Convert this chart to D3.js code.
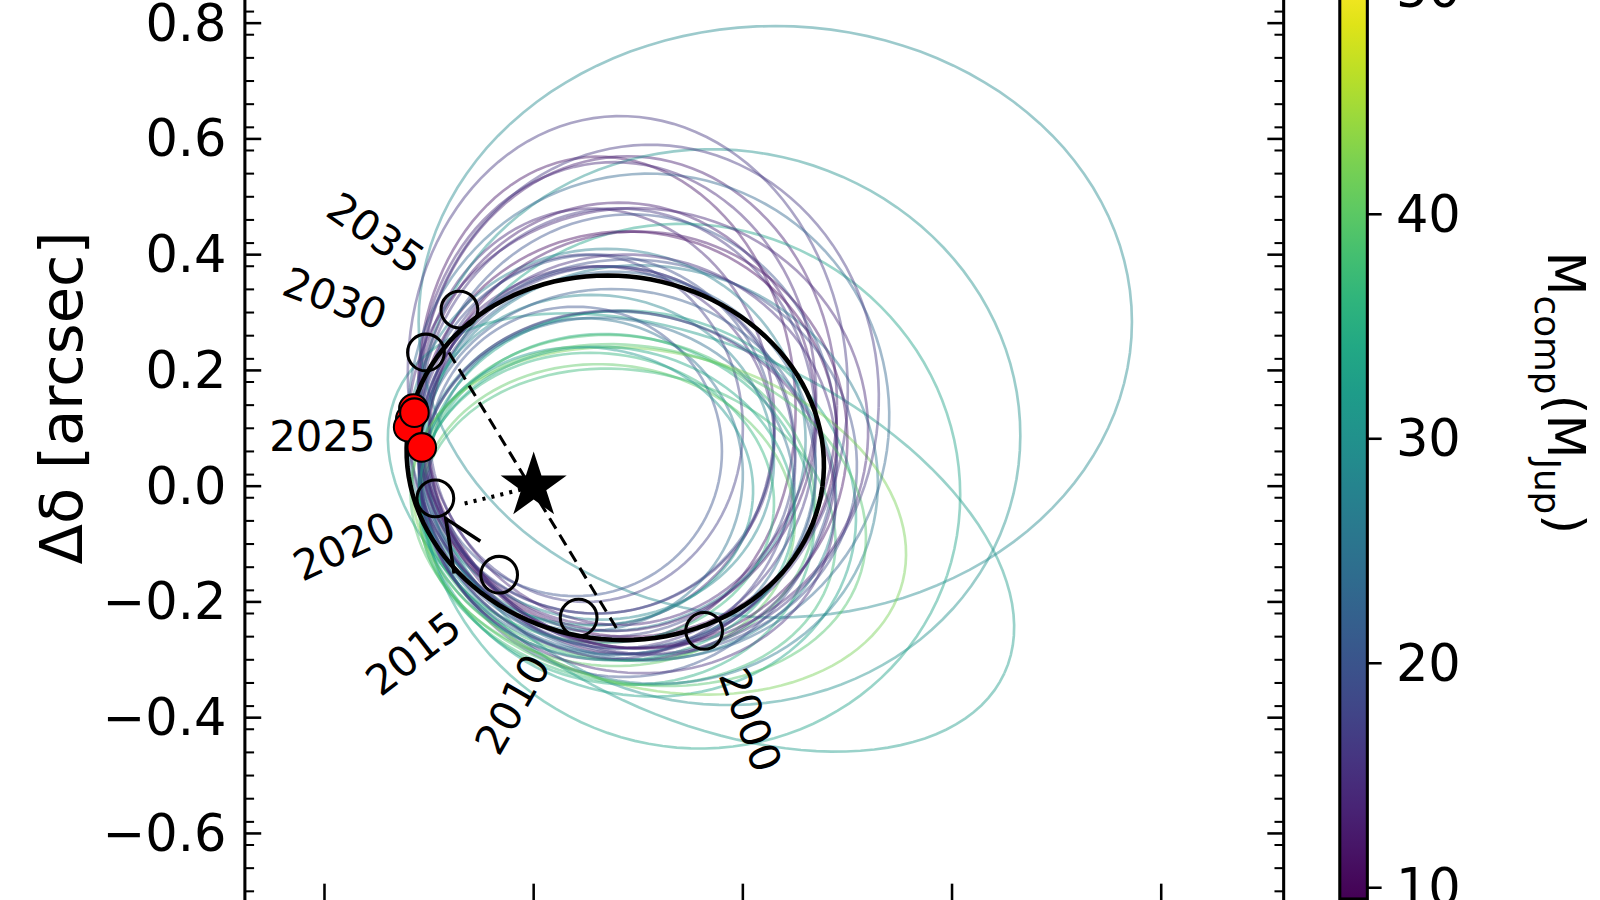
<!DOCTYPE html><html><head><meta charset="utf-8">
<script src="https://cdn.jsdelivr.net/npm/d3@7"></script>
<style>body{margin:0;background:#fff}svg{display:block;font-family:"DejaVu Sans",sans-serif}</style></head><body>
<svg id="c" width="1600" height="900"></svg>
<script>
// orbit ellipses: [cx, cy, rx, ry, rotationDeg, massMjup] (arcsec)
const orbits=[
[0.06,0.08,0.17,0.30,0,15],[0.07,0.06,0.18,0.32,-5,18],[0.08,0.04,0.19,0.33,-10,22],
[0.06,0.12,0.17,0.36,5,14],[0.08,0.10,0.19,0.38,0,16],[0.05,0.02,0.15,0.27,-5,25],
[0.09,0.00,0.20,0.30,-10,28],[0.08,-0.04,0.19,0.30,-15,35],[0.10,-0.03,0.21,0.33,-15,33],
[0.09,0.07,0.20,0.40,-5,20],[0.07,0.15,0.18,0.42,5,12],[0.09,0.14,0.20,0.43,0,13],
[0.06,0.05,0.17,0.28,-8,28],[0.08,-0.02,0.19,0.28,-8,38],[0.07,-0.05,0.18,0.26,-6,40],
[0.09,-0.07,0.20,0.27,-10,37],[0.11,0.02,0.22,0.36,-12,26],[0.16,-0.08,0.32,0.32,-25,32],
[0.231,0.284,0.341,0.511,0,29],[0.178,0.102,0.288,0.479,-10,30],[0.15,0.0,0.26,0.45,-25,33],
[0.04,0.06,0.14,0.25,0,20],[0.05,0.10,0.15,0.30,0,17],[0.09,0.09,0.20,0.35,-5,11],
[0.07,0.00,0.18,0.29,-10,24],[0.10,0.05,0.21,0.34,-12,19],[0.06,-0.02,0.17,0.25,-5,36],
[0.08,0.03,0.19,0.31,-8,21],[0.12,-0.06,0.24,0.29,-14,42],[0.09,0.18,0.21,0.46,5,16],
[0.11,0.12,0.23,0.42,-5,23],[0.07,0.08,0.19,0.33,-3,27],[0.05,0.00,0.16,0.24,-5,31],
[0.09,-0.01,0.20,0.31,-14,15],[0.10,0.10,0.22,0.38,-8,14],[0.08,0.12,0.19,0.37,-3,13],
[0.07,0.04,0.18,0.34,-6,17],[0.10,0.08,0.20,0.36,-10,12],[0.06,0.09,0.17,0.31,2,19],
[0.09,0.05,0.20,0.35,-8,15],[0.08,0.16,0.19,0.40,3,14],[0.07,-0.03,0.18,0.27,-8,34],
[0.10,-0.05,0.22,0.29,-12,39],[0.11,0.15,0.22,0.44,-2,16]];
const bestOrbit=[0.078,0.049,0.2,0.314,-8];
const epochs=[[0.163,-0.250],[0.043,-0.227],[-0.033,-0.153],[-0.094,-0.021],[-0.103,0.231],[-0.071,0.305]];
const observed=[[-0.115,0.134],[-0.118,0.116],[-0.12,0.102],[-0.107,0.067],[-0.114,0.127]];
const yearLabels=[["2000",0.207,-0.404,70],["2010",-0.02,-0.377,-60],["2015",-0.115,-0.289,-38],
["2020",-0.181,-0.104,-25],["2025",-0.202,0.085,0],["2030",-0.19,0.324,20],["2035",-0.151,0.437,35]];
const dashedLine=[[-0.081,0.231],[0.08,-0.248]];
const dottedLine=[[-0.066,-0.03],[-0.008,-0.004]];
const arrow=[[-0.076,-0.151],[-0.084,-0.056],[-0.051,-0.095]];
const yTicks=[-0.6,-0.4,-0.2,0.0,0.2,0.4,0.6,0.8];
const xTicks=[-0.2,0,0.2,0.4,0.6];
const cbTicks=[10,20,30,40,50];

const svg=d3.select("#c");
const root=svg.append("g").attr("transform","scale(1.0204)");
const x=d3.scaleLinear().domain([-0.2,0.6]).range([318,1138]);
const y=d3.scaleLinear().domain([-0.715,0.84]).range([882,0]);
const col=d3.scaleSequential(d3.interpolateViridis).domain([9.5,50.5]);
const line=d3.line().x(d=>x(d[0])).y(d=>y(d[1]));
function ell(o){const [cx,cy,rx,ry,r]=o;const a=r*Math.PI/180;
 return d3.range(0,361,3).map(t=>{const u=rx*Math.cos(t*Math.PI/180),v=ry*Math.sin(t*Math.PI/180);
 return [cx+u*Math.cos(a)-v*Math.sin(a)*0.55,cy+u*Math.sin(a)*1.8+v*Math.cos(a)];});}
const g=root.append("g");
g.selectAll("path.o").data(orbits).join("path").attr("d",d=>line(ell(d))).attr("fill","none")
 .attr("stroke",d=>col(d[5])).attr("stroke-width",2.6).attr("opacity",0.45);
g.append("path").attr("d",line(ell(bestOrbit))).attr("fill","none").attr("stroke","#000").attr("stroke-width",4.5);
g.append("path").attr("d",line(dashedLine)).attr("stroke","#000").attr("stroke-width",3).attr("stroke-dasharray","12,7");
g.append("path").attr("d",line(dottedLine)).attr("stroke","#000").attr("stroke-width",4).attr("stroke-dasharray","3,6");
g.append("path").attr("d",line(arrow)).attr("fill","none").attr("stroke","#000").attr("stroke-width",3.5);
g.selectAll("circle.e").data(epochs).join("circle").attr("cx",d=>x(d[0])).attr("cy",d=>y(d[1])).attr("r",18)
 .attr("fill","none").attr("stroke","#000").attr("stroke-width",3);
g.selectAll("circle.r").data(observed).join("circle").attr("cx",d=>x(d[0])).attr("cy",d=>y(d[1])).attr("r",14)
 .attr("fill","#f00").attr("stroke","#000").attr("stroke-width",2);
g.append("path").attr("d",d3.symbol(d3.symbolStar,1300)()).attr("transform",`translate(${x(0)},${y(0)})`).attr("fill","#000");
g.selectAll("text.yr").data(yearLabels).join("text").attr("transform",d=>`translate(${x(d[1])},${y(d[2])}) rotate(${d[3]})`)
 .attr("text-anchor","middle").attr("dominant-baseline","central").attr("font-size",41).text(d=>d[0]);
const L=240,R=1258,B=882;
root.append("path").attr("d",`M${L},0V${B}M${R},0V${B}`).attr("stroke","#000").attr("stroke-width",3);
const minorY=d3.range(-0.7,0.84,0.04).map(v=>+v.toFixed(2));
root.selectAll("line.my").data(minorY).join("line").attr("x1",L).attr("x2",L+9).attr("y1",d=>y(d)).attr("y2",d=>y(d)).attr("stroke","#000").attr("stroke-width",2);
root.selectAll("line.my2").data(minorY).join("line").attr("x1",R).attr("x2",R-9).attr("y1",d=>y(d)).attr("y2",d=>y(d)).attr("stroke","#000").attr("stroke-width",2);
root.selectAll("line.My").data(yTicks).join("line").attr("x1",L).attr("x2",L+16).attr("y1",d=>y(d)).attr("y2",d=>y(d)).attr("stroke","#000").attr("stroke-width",2.5);
root.selectAll("line.My2").data(yTicks).join("line").attr("x1",R).attr("x2",R-16).attr("y1",d=>y(d)).attr("y2",d=>y(d)).attr("stroke","#000").attr("stroke-width",2.5);
root.selectAll("line.Mx").data(xTicks).join("line").attr("x1",d=>x(d)).attr("x2",d=>x(d)).attr("y1",B).attr("y2",B-16).attr("stroke","#000").attr("stroke-width",2.5);
root.selectAll("text.yt").data(yTicks).join("text").attr("x",222).attr("y",d=>y(d)).attr("text-anchor","end")
 .attr("dominant-baseline","central").attr("font-size",50).text(d=>d3.format(".1f")(d).replace("-","\u2212"));
root.append("text").attr("transform","translate(60,390) rotate(-90)").attr("text-anchor","middle").attr("dominant-baseline","central")
 .attr("font-size",58).text("Δδ [arcsec]");
const cy=d3.scaleLinear().domain([10,50]).range([870,-10]);
const defs=svg.append("defs");const gr=defs.append("linearGradient").attr("id","vg").attr("x1",0).attr("y1",1).attr("x2",0).attr("y2",0);
d3.range(0,1.01,0.05).forEach(t=>gr.append("stop").attr("offset",t).attr("stop-color",d3.interpolateViridis(t)));
root.append("rect").attr("x",1313).attr("y",cy(50.5)).attr("width",27).attr("height",cy(9.5)-cy(50.5)).attr("fill","url(#vg)").attr("stroke","#000").attr("stroke-width",3);
root.selectAll("line.cb").data(cbTicks).join("line").attr("x1",1340).attr("x2",1354).attr("y1",d=>cy(d)).attr("y2",d=>cy(d)).attr("stroke","#000").attr("stroke-width",2.5);
root.selectAll("text.cb").data(cbTicks).join("text").attr("x",1368).attr("y",d=>cy(d)).attr("dominant-baseline","central").attr("font-size",50).text(d=>d);
const lab=root.append("text").attr("transform","translate(1517,385) rotate(90)").attr("text-anchor","middle").attr("font-size",50);
lab.append("tspan").text("M");lab.append("tspan").attr("font-size",35).attr("dy",13).text("comp");
lab.append("tspan").attr("dy",-13).text("(M");lab.append("tspan").attr("font-size",35).attr("dy",13).text("Jup");
lab.append("tspan").attr("dy",-13).text(")");
</script></body></html>
